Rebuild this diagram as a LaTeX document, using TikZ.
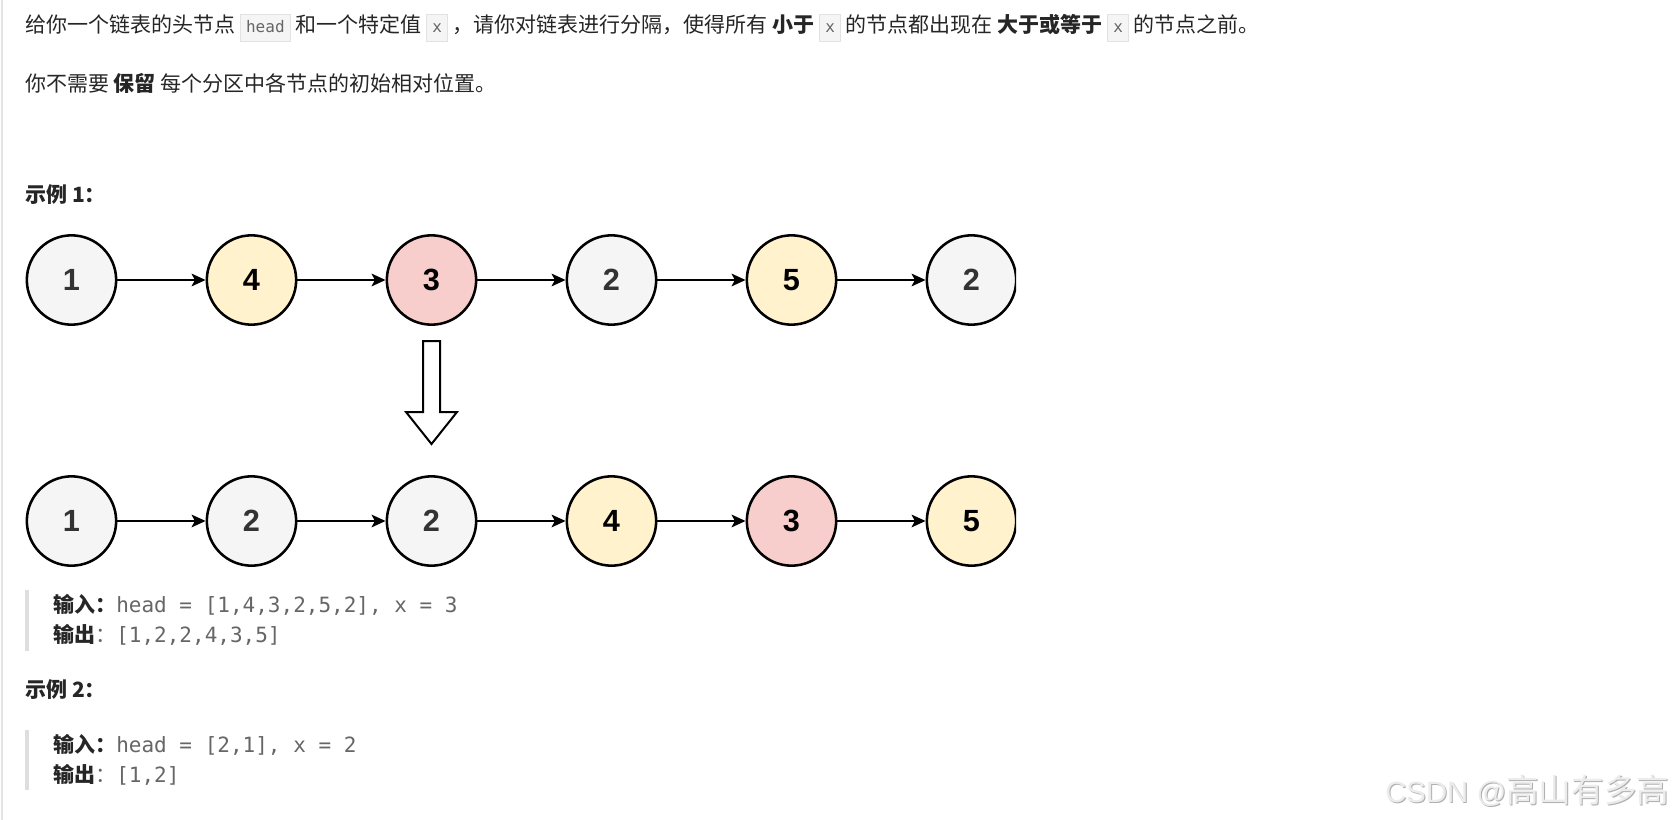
\documentclass[tikz,border=0pt]{standalone}
\usepackage{fontspec}
\setmainfont{Noto Sans CJK SC}
\newfontfamily\monofont{DejaVu Sans Mono}
\newfontfamily\numfont{Liberation Sans}
\usetikzlibrary{arrows.meta}
\definecolor{cgray}{RGB}{245,245,245}
\definecolor{cyellow}{RGB}{255,242,204}
\definecolor{cred}{RGB}{248,206,204}
\definecolor{numgray}{RGB}{51,51,51}
\definecolor{txt}{RGB}{38,38,38}
\definecolor{codegray}{RGB}{102,102,102}
\definecolor{codebg}{RGB}{245,245,245}
\definecolor{codeborder}{RGB}{226,226,226}
\definecolor{barcol}{RGB}{222,222,222}
\definecolor{edgecol}{RGB}{228,228,228}
\definecolor{wmshade}{RGB}{175,175,175}
\definecolor{wmfill}{RGB}{236,236,236}
\newcommand\cb[1]{{\fboxsep=4pt\fboxrule=0.6pt\fcolorbox{codeborder}{codebg}{\monofont\fontsize{12pt}{14pt}\selectfont\color{codegray}\vphantom{hg}#1}}}
\newcommand\mymono{\monofont\fontsize{15.75pt}{20pt}\selectfont\color{codegray}}
\begin{document}
\begin{tikzpicture}[x=0.75pt,y=-0.75pt,
  txtnode/.style={anchor=west,inner sep=0pt,text=txt,font=\fontsize{15.75pt}{20pt}\selectfont},
  ln/.style={circle,draw=black,line width=1.9pt,minimum size=67pt,inner sep=0pt,
    font=\numfont\bfseries\fontsize{23pt}{23pt}\selectfont},
  gnode/.style={ln,fill=cgray,text=numgray},
  ynode/.style={ln,fill=cyellow,text=black},
  rnode/.style={ln,fill=cred,text=black},
  link/.style={-{Stealth[length=10.5pt,width=9.5pt,inset=2.5pt]},line width=1.5pt},
  bar/.style={draw=barcol,line width=2.4pt},
  wm/.style={anchor=west,inner sep=0pt}]
\useasboundingbox (0,0) rectangle (1673,820);
\fill[white] (0,0) rectangle (1673,820);
\draw[edgecol,line width=1.5pt] (2,0) -- (2,820);

% text
\node[txtnode] (l1) at (25,28) {给你一个链表的头节点 \cb{head} 和一个特定值 \cb{x} ，请你对链表进行分隔，使得所有 \textbf{小于} \cb{x} 的节点都出现在 \textbf{大于或等于} \cb{x} 的节点之前。};
\node[txtnode] (l2) at (25,83) {你不需要 \textbf{保留} 每个分区中各节点的初始相对位置。};
\node[txtnode] (ex1) at (25,195) {\textbf{示例 1：}};

% row 1
\node[gnode] (a1) at (71.5,280) {1};
\node[ynode] (a2) at (251.5,280) {4};
\node[rnode] (a3) at (431.5,280) {3};
\node[gnode] (a4) at (611.5,280) {2};
\node[ynode] (a5) at (791.5,280) {5};
\begin{scope}
\clip (0,0) rectangle (1016,820);
\node[gnode] (a6) at (971.5,280) {2};
\node[ynode] (b6) at (971.5,521) {5};
\end{scope}
\foreach \i/\j in {a1/a2,a2/a3,a3/a4,a4/a5,a5/a6}
  \draw[link] (\i) -- (\j);

% hollow arrow
\draw[line width=1.5pt,fill=white,line join=miter]
  (423,341) -- (440,341) -- (440,412) -- (457,412) -- (431.5,444)
  -- (406,412) -- (423,412) -- cycle;

% row 2
\node[gnode] (b1) at (71.5,521) {1};
\node[gnode] (b2) at (251.5,521) {2};
\node[gnode] (b3) at (431.5,521) {2};
\node[ynode] (b4) at (611.5,521) {4};
\node[rnode] (b5) at (791.5,521) {3};
\foreach \i/\j in {b1/b2,b2/b3,b3/b4,b4/b5,b5/b6}
  \draw[link] (\i) -- (\j);

% example 1 io
\draw[bar] (27,590) -- (27,651);
\node[txtnode] (in1) at (53,605) {\textbf{输入：}{\mymono head = [1,4,3,2,5,2], x = 3}};
\node[txtnode] (out1) at (53,635) {\textbf{输出}{\color{codegray}：}{\mymono [1,2,2,4,3,5]}};

% example 2
\node[txtnode] (ex2) at (25,690) {\textbf{示例 2：}};
\draw[bar] (27,730) -- (27,790);
\node[txtnode] (in2) at (53,745) {\textbf{输入：}{\mymono head = [2,1], x = 2}};
\node[txtnode] (out2) at (53,775) {\textbf{输出}{\color{codegray}：}{\mymono [1,2]}};

% watermark
\node[wm,text=wmshade] (wms) at (1386,792) {{\numfont\fontsize{22pt}{24pt}\selectfont CSDN @}{\fontsize{24.5pt}{26pt}\selectfont 高山有多高}};
\node[wm,text=wmfill] (wmt) at (1385,791) {{\numfont\fontsize{22pt}{24pt}\selectfont CSDN @}{\fontsize{24.5pt}{26pt}\selectfont 高山有多高}};
\end{tikzpicture}
\end{document}
